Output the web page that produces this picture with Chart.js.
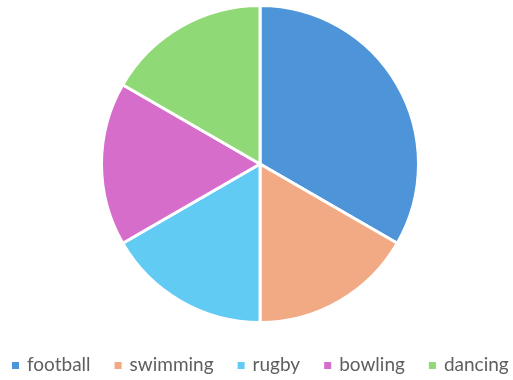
<!DOCTYPE html>
<html lang="en">

<head>
    <meta charset="UTF-8">
    <title>Sports pie</title>
    <script src="https://cdn.jsdelivr.net/npm/chart.js"></script>
    <style>
        body {
            margin: 0;
            background-color: #ffffff;
        }

        #chartContainer {
            width: 513px;
            height: 380px;
        }
    </style>
</head>

<body>
<div id="chartContainer">
    <canvas id="sportsChart"></canvas>
</div>

<script>
    // categories and their values
    const sports = ['football', 'swimming', 'rugby', 'bowling', 'dancing'];
    const counts = [10, 5, 5, 5, 5];
    const sliceColors = ['#4E94D9', '#F2AA84', '#62CBF4', '#D76DCB', '#90D977'];

    // one-row legend under the pie: small square, then the label
    const rowLegend = {
        id: 'rowLegend',
        afterDraw(chart) {
            const ctx = chart.ctx;
            const box = 7, gapText = 8, gapItem = 24;
            const baseline = 371;

            ctx.save();
            ctx.font = '19px Lato';
            ctx.textBaseline = 'alphabetic';
            ctx.textAlign = 'left';

            const widths = chart.data.labels.map(l => ctx.measureText(l).width);
            const total = widths.reduce((s, w) => s + box + gapText + w, 0) + gapItem * (widths.length - 1);
            const cx = (chart.chartArea.left + chart.chartArea.right) / 2;
            let x = Math.round(cx - total / 2);

            chart.data.labels.forEach((label, i) => {
                ctx.fillStyle = chart.data.datasets[0].backgroundColor[i];
                ctx.fillRect(x, baseline - 9, box, box);
                x += box + gapText;
                ctx.fillStyle = '#5f5f5f';
                ctx.fillText(label, x, baseline);
                x += widths[i] + gapItem;
            });
            ctx.restore();
        }
    };

    new Chart(document.getElementById('sportsChart'), {
        type: 'pie',
        data: {
            labels: sports,
            datasets: [{
                data: counts,
                backgroundColor: sliceColors,
                borderColor: '#ffffff',
                borderWidth: 3
            }]
        },
        options: {
            responsive: true,
            maintainAspectRatio: false,
            animation: false,
            layout: {
                padding: { top: 4, left: 7, right: 0, bottom: 56 }
            },
            plugins: {
                tooltip: { enabled: false },
                legend: { display: false }
            }
        },
        plugins: [rowLegend]
    });
</script>
</body>

</html>
